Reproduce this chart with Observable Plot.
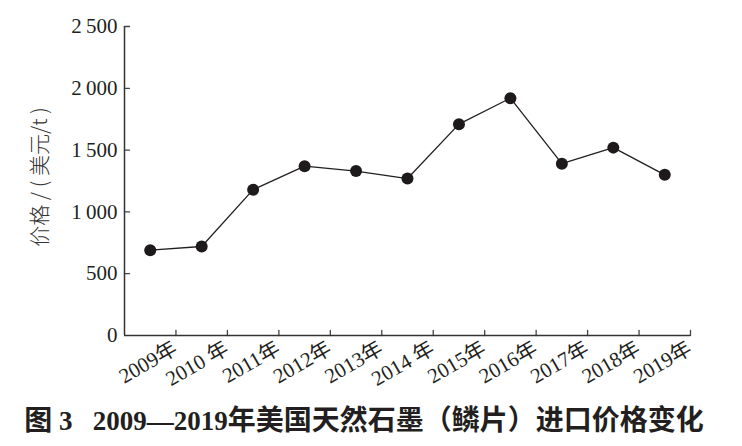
<!DOCTYPE html>
<html><head><meta charset="utf-8">
<script src="https://cdn.jsdelivr.net/npm/d3@7"></script>
<script src="https://cdn.jsdelivr.net/npm/@observablehq/plot@0.6"></script>
<style>
body{margin:0;background:#fff;width:742px;height:446px;overflow:hidden}
#chart svg{display:block}
#title{height:51px;box-sizing:border-box;padding-top:8px;line-height:30px;white-space:nowrap;text-align:center;padding-right:14px;color:#231f20;font-weight:bold;font-family:"Noto Sans CJK SC",sans-serif;font-size:28px}
#title .lat{font-family:"Liberation Serif",serif;font-size:27px;font-weight:bold}
</style></head><body><div id="chart"></div>
<div id="title">图<span class="lat"> 3 &nbsp;&nbsp;2009—2019</span>年美国天然石墨（鳞片）进口价格变化</div>
<script>
const years = [2009, 2010, 2011, 2012, 2013, 2014, 2015, 2016, 2017, 2018, 2019];
const prices = [690, 720, 1180, 1370, 1330, 1270, 1710, 1920, 1390, 1520, 1300];
const yearLabels = ["2009年", "2010 年", "2011年", "2012年", "2013年", "2014 年", "2015年", "2016年", "2017年", "2018年", "2019年"];
const yTicks = [0, 500, 1000, 1500, 2000, 2500];
const yLabel = "价格 / ( 美元/t )";

const data = years.map((y, i) => ({year: y, price: prices[i], label: yearLabels[i]}));
const bounds = years.map(y => y + 0.5);
const x0 = years[0] - 0.5;
const ink = "#231f20";
const tickShape = {draw(ctx, l) { ctx.moveTo(0, 0); ctx.lineTo(0, -l); }};
const fmt = d => d3.format(",")(d).replace(/,/g, "\u2009");

const chart = Plot.plot({
  width: 742, height: 395,
  marginLeft: 124, marginRight: 52, marginTop: 26, marginBottom: 60,
  style: {fontFamily: "'Liberation Serif', 'Noto Sans CJK SC', serif", color: ink, background: "#fff"},
  x: {type: "linear", domain: [x0, years[years.length - 1] + 0.5]},
  y: {domain: [0, 2500]},
  marks: [
    Plot.axisY({ticks: yTicks, tickSize: 0, tickPadding: 7, tickFormat: fmt, fontSize: 21, label: null, fill: ink}),
    Plot.axisX({ticks: [], label: null}),
    Plot.vector(yTicks.slice(1), {x: x0, y: d => d, length: 5, rotate: 90, anchor: "start", shape: tickShape, stroke: "#444", strokeWidth: 1.3}),
    Plot.vector(bounds, {x: d => d, y: 0, length: 5, rotate: 0, anchor: "start", shape: tickShape, stroke: "#444", strokeWidth: 1.3}),
    Plot.ruleX([x0], {stroke: "#333", strokeWidth: 1.5}),
    Plot.ruleY([0], {stroke: "#333", strokeWidth: 1.5}),
    Plot.text(data, {x: "year", text: "label", frameAnchor: "bottom", rotate: -30, textAnchor: "end", lineAnchor: "top", dx: 21, dy: 4, fontSize: 21, fill: ink}),
    Plot.text([yLabel], {frameAnchor: "left", text: d => d, rotate: -90, textAnchor: "middle", dx: -84, dy: -4, fontSize: 21, fontWeight: 300, fontFamily: "'Noto Sans CJK SC', sans-serif", fill: "#333"}),
    Plot.line(data, {x: "year", y: "price", stroke: ink, strokeWidth: 1.3}),
    Plot.dot(data, {x: "year", y: "price", r: 6, fill: "#1e1a1b", stroke: "none"})
  ]
});
document.getElementById("chart").appendChild(chart);
</script></body></html>
